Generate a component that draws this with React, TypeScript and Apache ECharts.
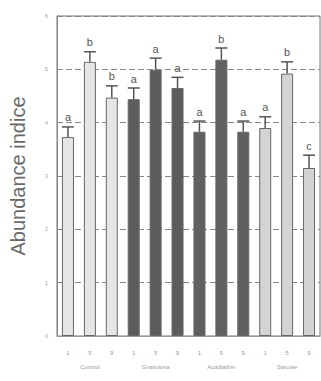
import React, { useEffect, useRef } from "react";
import * as echarts from "echarts";

const groups = ["Control", "Granulosa", "Acadiathin", "Saroise"];
const days = ["1", "5", "9", "1", "5", "9", "1", "5", "9", "1", "5", "9"];
const values = [3.73, 5.14, 4.47, 4.44, 4.99, 4.65, 3.83, 5.18, 3.83, 3.9, 4.92, 3.15];
const errors = [0.19, 0.19, 0.22, 0.21, 0.22, 0.2, 0.2, 0.22, 0.2, 0.21, 0.22, 0.24];
const letters = ["a", "b", "b", "a", "a", "a", "a", "b", "a", "a", "b", "c"];
const yTicks = [0, 1, 2, 3, 4, 5, 6];

const groupColor = ["#e6e6e6", "#5c5c5c", "#606060", "#d4d4d4"];

export default function App() {
  const ref = useRef<HTMLDivElement>(null);
  useEffect(() => {
    document.body.style.margin = "0";
    const chart = echarts.init(ref.current!, null, { renderer: "svg" });
    chart.setOption({
      animation: false,
      backgroundColor: "#ffffff",
      grid: { left: 57, right: 1, top: 16, bottom: 45, show: true, borderColor: "#777", borderWidth: 1 },
      xAxis: [
        {
          type: "category",
          data: days,
          axisLine: { show: true, lineStyle: { color: "#999" } },
          axisTick: { show: false },
          axisLabel: { color: "#999", fontSize: 6, margin: 14, fontFamily: "Liberation Sans" },
        },
        {
          type: "category",
          data: groups,
          position: "bottom",
          offset: 20,
          axisLine: { show: false },
          axisTick: { show: false },
          axisLabel: { color: "#999", fontSize: 6, margin: 8, fontFamily: "Liberation Sans" },
        },
      ],
      yAxis: {
        type: "value",
        min: 0,
        max: 6,
        interval: 1,
        name: "Abundance indice",
        nameLocation: "middle",
        nameGap: 29,
        nameTextStyle: { color: "#6a6a6a", fontSize: 20, fontFamily: "Liberation Sans" },
        axisLine: { show: true, lineStyle: { color: "#888" } },
        axisTick: { show: false },
        axisLabel: {
          color: "#aaa",
          fontSize: 6,
          margin: 9,
          formatter: (v: number) => (yTicks.includes(v) ? String(v) : ""),
        },
        splitLine: { show: true, lineStyle: { color: "#888", type: [6, 3], width: 1 } },
      },
      series: [
        {
          type: "bar",
          xAxisIndex: 0,
          barWidth: 12,
          data: values.map((v, i) => ({
            value: v,
            itemStyle: {
              color: groupColor[Math.floor(i / 3)],
              borderColor: "#666",
              borderWidth: 1,
            },
          })),
        },
        {
          type: "custom",
          xAxisIndex: 0,
          colorBy: "series",
          itemStyle: { color: "#555" },
          data: values.map((v, i) => [i, v, errors[i]]),
          z: 5,
          renderItem: (params: any, api: any) => {
            const idx = api.value(0);
            const v = api.value(1);
            const e = api.value(2);
            const p0 = api.coord([idx, v]);
            const p1 = api.coord([idx, v + e]);
            const hw = 6;
            return {
              type: "group",
              children: [
                { type: "line", shape: { x1: p0[0], y1: p0[1], x2: p1[0], y2: p1[1] }, style: { stroke: "#555", lineWidth: 1.5 } },
                { type: "line", shape: { x1: p1[0] - hw, y1: p1[1], x2: p1[0] + hw, y2: p1[1] }, style: { stroke: "#555", lineWidth: 1.5 } },
                {
                  type: "text",
                  x: p1[0],
                  y: p1[1] - 4,
                  style: {
                    text: letters[params.dataIndex],
                    fill: "#555555",
                    fontSize: 11,
                    fontFamily: "Liberation Sans",
                    align: "center",
                    verticalAlign: "bottom",
                  },
                },
              ],
            };
          },
        },
      ],
    });
    return () => chart.dispose();
  }, []);
  return <div ref={ref} style={{ width: 321, height: 381 }} />;
}
